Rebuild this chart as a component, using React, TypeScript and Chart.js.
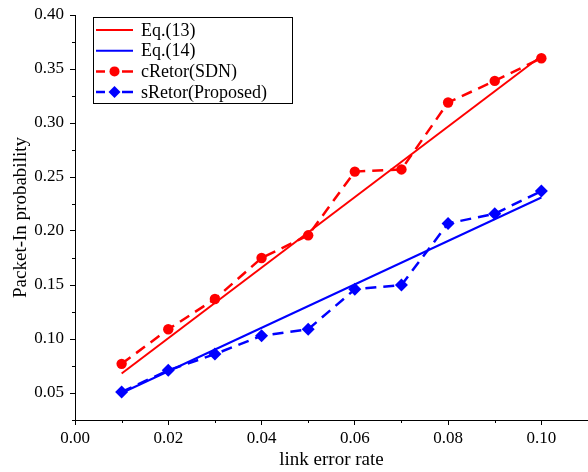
import React, { useEffect, useRef } from 'react';
import { Chart, registerables } from 'chart.js';

Chart.register(...registerables);

const errorRates = [0.01, 0.02, 0.03, 0.04, 0.05, 0.06, 0.07, 0.08, 0.09, 0.1];
const cRetor = [0.077, 0.109, 0.137, 0.175, 0.196, 0.255, 0.257, 0.319, 0.339, 0.36];
const sRetor = [0.051, 0.071, 0.086, 0.103, 0.109, 0.146, 0.15, 0.207, 0.216, 0.237];
const eqX = [0.01, 0.1];
const eq13 = [0.068, 0.362];
const eq14 = [0.05, 0.231];
const seriesLabels = ['Eq.(13)', 'Eq.(14)', 'cRetor(SDN)', 'sRetor(Proposed)'];
const xMajorTicks = [0, 0.02, 0.04, 0.06, 0.08, 0.1];
const xMinorTicks = [0.01, 0.03, 0.05, 0.07, 0.09, 0.11];
const yMajorTicks = [0.05, 0.1, 0.15, 0.2, 0.25, 0.3, 0.35, 0.4];
const yMinorTicks = [0.025, 0.075, 0.125, 0.175, 0.225, 0.275, 0.325, 0.375];
const xTitle = 'link error rate';
const yTitle = 'Packet-In probability';

const FONT = '"Liberation Serif", "DejaVu Serif", serif';

const minorTickPlugin = {
  id: 'minorTicks',
  afterDraw(chart: any) {
    const { ctx, scales } = chart;
    const x = scales.x;
    const y = scales.y;
    ctx.save();
    ctx.strokeStyle = '#000';
    ctx.lineWidth = 1;
    ctx.beginPath();
    xMinorTicks.forEach((v) => {
      const px = Math.round(x.getPixelForValue(v)) + 0.5;
      ctx.moveTo(px, x.top);
      ctx.lineTo(px, x.top + 3);
    });
    yMinorTicks.forEach((v) => {
      const py = Math.round(y.getPixelForValue(v)) + 0.5;
      ctx.moveTo(y.right, py);
      ctx.lineTo(y.right - 3, py);
    });
    ctx.stroke();
    ctx.restore();
  },
};

const boxLegendPlugin = {
  id: 'boxLegend',
  afterDraw(chart: any) {
    const { ctx, chartArea } = chart;
    const left = chartArea.left + 18;
    const top = chartArea.top + 2;
    const w = 199;
    const h = 86;
    ctx.save();
    ctx.fillStyle = '#fff';
    ctx.fillRect(left, top, w, h);
    ctx.strokeStyle = '#000';
    ctx.lineWidth = 1;
    ctx.strokeRect(left + 0.5, top + 0.5, w, h);
    chart.data.datasets.forEach((ds: any, i: number) => {
      const cy = top + 13 + i * 20.7;
      const x0 = left + 3;
      const x1 = left + 40;
      ctx.strokeStyle = ds.borderColor;
      ctx.lineWidth = ds.borderWidth;
      ctx.setLineDash([]);
      ctx.beginPath();
      if (ds.borderDash && ds.borderDash.length) {
        ctx.moveTo(x0, cy);
        ctx.lineTo(x0 + 9, cy);
        ctx.moveTo(x1 - 11, cy);
        ctx.lineTo(x1, cy);
      } else {
        ctx.moveTo(x0, cy);
        ctx.lineTo(x1, cy);
      }
      ctx.stroke();
      if (ds.pointRadius > 0) {
        const cx = (x0 + x1) / 2;
        ctx.fillStyle = ds.pointBackgroundColor;
        ctx.beginPath();
        if (ds.pointStyle === 'rectRot') {
          const r = 6;
          ctx.moveTo(cx, cy - r);
          ctx.lineTo(cx + r, cy);
          ctx.lineTo(cx, cy + r);
          ctx.lineTo(cx - r, cy);
          ctx.closePath();
        } else {
          ctx.arc(cx, cy, 5, 0, Math.PI * 2);
        }
        ctx.fill();
      }
      ctx.fillStyle = '#000';
      ctx.font = `18px ${FONT}`;
      ctx.textBaseline = 'middle';
      ctx.textAlign = 'left';
      ctx.fillText(ds.label, left + 48, cy + 1);
    });
    ctx.restore();
  },
};

export default function App() {
  const canvasRef = useRef<HTMLCanvasElement | null>(null);

  useEffect(() => {
    document.body.style.margin = '0';
    const canvas = canvasRef.current;
    if (!canvas) return;
    const chart = new Chart(canvas, {
      type: 'line',
      data: {
        datasets: [
          {
            label: seriesLabels[0],
            data: eqX.map((x, i) => ({ x, y: eq13[i] })),
            borderColor: '#ff0000',
            backgroundColor: '#ff0000',
            borderWidth: 2,
            pointRadius: 0,
            fill: false,
          },
          {
            label: seriesLabels[1],
            data: eqX.map((x, i) => ({ x, y: eq14[i] })),
            borderColor: '#0000ff',
            backgroundColor: '#0000ff',
            borderWidth: 2,
            pointRadius: 0,
            fill: false,
          },
          {
            label: seriesLabels[2],
            data: errorRates.map((x, i) => ({ x, y: cRetor[i] })),
            borderColor: '#ff0000',
            backgroundColor: '#ff0000',
            pointBackgroundColor: '#ff0000',
            pointBorderColor: '#ff0000',
            pointBorderWidth: 0,
            borderWidth: 2.5,
            borderDash: [11, 7],
            pointStyle: 'circle',
            pointRadius: 5.2,
            fill: false,
          },
          {
            label: seriesLabels[3],
            data: errorRates.map((x, i) => ({ x, y: sRetor[i] })),
            borderColor: '#0000ff',
            backgroundColor: '#0000ff',
            pointBackgroundColor: '#0000ff',
            pointBorderColor: '#0000ff',
            pointBorderWidth: 0,
            borderWidth: 2.5,
            borderDash: [11, 7],
            pointStyle: 'rectRot',
            pointRadius: 6.5,
            fill: false,
          },
        ] as any,
      },
      options: {
        responsive: false,
        animation: false,
        layout: { autoPadding: false, padding: { top: 15, left: 0, right: 0, bottom: 0 } },
        plugins: { legend: { display: false }, tooltip: { enabled: false } },
        scales: {
          x: {
            type: 'linear',
            min: 0,
            max: 0.11,
            afterBuildTicks: (scale: any) => {
              scale.ticks = xMajorTicks.map((v) => ({ value: v }));
            },
            afterFit: (scale: any) => {
              scale.height = 52;
              scale.paddingRight = 0;
              scale.paddingLeft = 0;
            },
            ticks: {
              color: '#000',
              font: { family: FONT, size: 17 },
              padding: 3,
              maxRotation: 0,
              autoSkip: false,
              callback: (v: any) => Number(v).toFixed(2),
            },
            grid: { display: true, drawOnChartArea: false, drawTicks: true, tickLength: 5, color: '#000' },
            border: { display: true, color: '#000', width: 1 },
            title: {
              display: true,
              text: xTitle,
              color: '#000',
              font: { family: FONT, size: 19 },
              padding: { top: 0, bottom: 1 },
            },
          },
          y: {
            type: 'linear',
            min: 0.025,
            max: 0.4,
            afterBuildTicks: (scale: any) => {
              scale.ticks = yMajorTicks.map((v) => ({ value: v }));
            },
            afterFit: (scale: any) => {
              scale.width = 75;
              scale.paddingTop = 0;
              scale.paddingBottom = 0;
            },
            ticks: {
              color: '#000',
              font: { family: FONT, size: 17 },
              padding: 6,
              autoSkip: false,
              callback: (v: any) => Number(v).toFixed(2),
            },
            grid: { display: true, drawOnChartArea: false, drawTicks: true, tickLength: 5, color: '#000' },
            border: { display: true, color: '#000', width: 1 },
            title: {
              display: true,
              text: yTitle,
              color: '#000',
              font: { family: FONT, size: 19 },
              padding: { top: 10, bottom: 0 },
            },
          },
        },
      },
      plugins: [minorTickPlugin, boxLegendPlugin],
    });
    return () => chart.destroy();
  }, []);

  return (
    <div style={{ position: 'absolute', left: 0, top: 0, width: 588, height: 472, background: '#fff' }}>
      <canvas ref={canvasRef} width={588} height={472} />
    </div>
  );
}
